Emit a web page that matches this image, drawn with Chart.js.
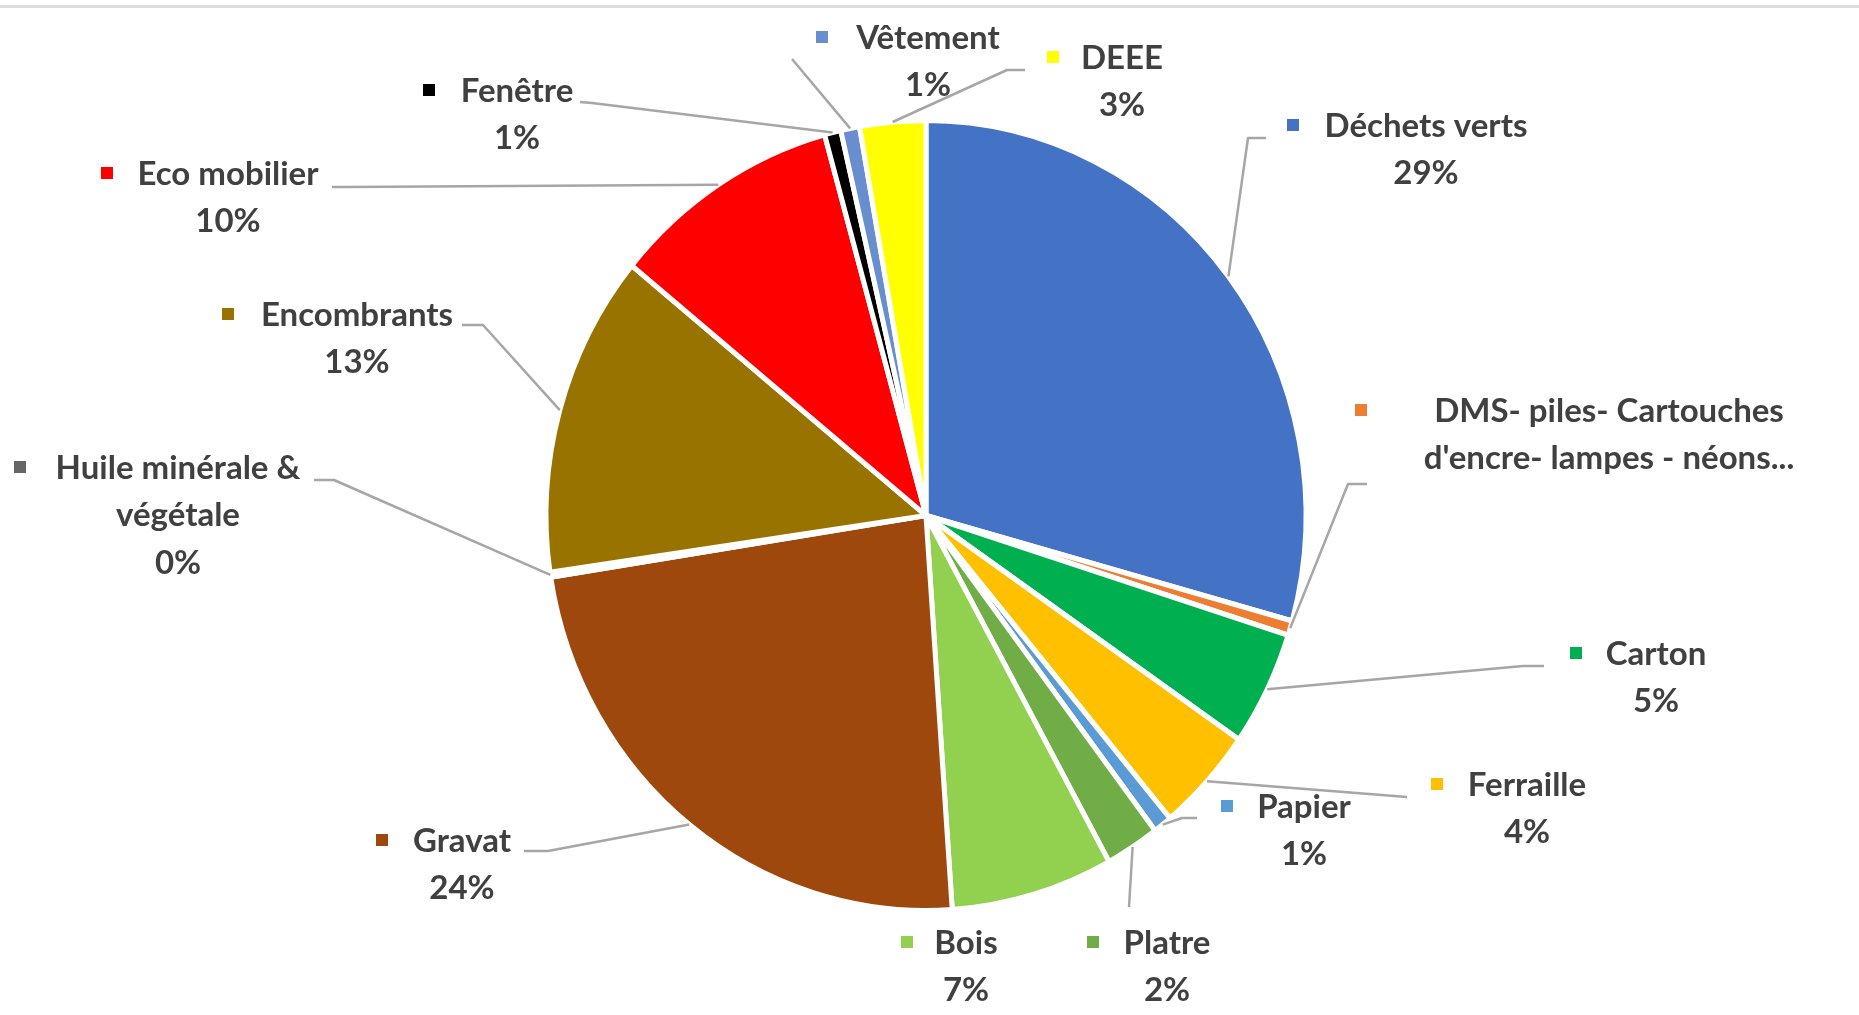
<!DOCTYPE html>
<html>
<head>
<meta charset="utf-8">
<script src="https://cdn.jsdelivr.net/npm/chart.js@4.4.1/dist/chart.umd.min.js"></script>
<style>
  html, body { margin: 0; padding: 0; background: #fff; }
  #wrap { position: relative; width: 1859px; height: 1015px; }
  #topline { position: absolute; left: 0; top: 5px; width: 1859px; height: 3px; background: #dcdcdc; }
  canvas { position: absolute; left: 0; top: 0; }
</style>
</head>
<body>
<div id="wrap">
  <div id="topline"></div>
  <canvas id="pie"></canvas>
</div>
<script>
// Répartition des apports en déchetterie (parts en %)
const categories = [
  "Déchets verts",
  "DMS- piles- Cartouches d'encre- lampes - néons...",
  "Carton",
  "Ferraille",
  "Papier",
  "Platre",
  "Bois",
  "Gravat",
  "Huile minérale & végétale",
  "Encombrants",
  "Eco mobilier",
  "Fenêtre",
  "Vêtement",
  "DEEE",
]
const values = [29.3, 0.6, 4.7, 4.3, 0.8, 2.3, 6.9, 23.6, 0.2, 13.2, 9.8, 0.7, 0.8, 2.8]
const colors = [
  "#4472C4", "#ED7D31", "#00B050", "#FFC000", "#5B9BD5", "#70AD47", "#92D050",
  "#9E480E", "#666666", "#997300", "#FF0000", "#000000", "#698ED0", "#FFFF00",
]

// label placement (page px): square x, text centre x, first line y, leader start + elbow
const labelLayout = [
  { sq: 1293, tx: 1426, ty: 126, lines: ["Déchets verts"], from: [1266, 138], elbow: [1248, 138] },
  { sq: 1361, tx: 1609, ty: 411, lines: ["DMS- piles- Cartouches", "d'encre- lampes - néons..."], noPct: true, from: [1367, 484], elbow: [1348, 484] },
  { sq: 1576, tx: 1656, ty: 654, lines: ["Carton"], from: [1544, 666], elbow: [1523, 666] },
  { sq: 1437, tx: 1527, ty: 785, lines: ["Ferraille"], from: [1407, 797], elbow: null },
  { sq: 1227, tx: 1304, ty: 807, lines: ["Papier"], from: [1197, 818], elbow: [1182, 818] },
  { sq: 1093, tx: 1167, ty: 943, lines: ["Platre"], from: [1129, 907], elbow: null },
  { sq: 907, tx: 966, ty: 943, lines: ["Bois"], from: null },
  { sq: 382, tx: 462, ty: 841, lines: ["Gravat"], from: [524, 851], elbow: [548, 851] },
  { sq: 20, tx: 178, ty: 468, lines: ["Huile minérale &", "végétale"], from: [314, 480], elbow: [334, 480] },
  { sq: 228, tx: 357, ty: 315, lines: ["Encombrants"], from: [462, 325], elbow: [483, 325] },
  { sq: 107, tx: 228, ty: 174, lines: ["Eco mobilier"], from: [332, 187], elbow: [345, 187] },
  { sq: 429, tx: 517, ty: 91, lines: ["Fenêtre"], from: [580, 102], elbow: [592, 103] },
  { sq: 822, tx: 928, ty: 38, lines: ["Vêtement"], from: [792, 59], elbow: null },
  { sq: 1053, tx: 1122, ty: 58, lines: ["DEEE"], from: [1025, 70], elbow: [1007, 70] },
]

const STRETCH_Y = 394 / 379
const LINE_H = 47.5
const FONT = "bold 33px Lato, 'Open Sans', sans-serif"

const total = values.reduce((s, v) => s + v, 0)

// the original pie is a little taller than wide
const stretchPlugin = {
  id: "stretch",
  beforeDatasetsDraw(chart) {
    const arc = chart.getDatasetMeta(0).data[0]
    const ctx = chart.ctx
    ctx.save()
    ctx.translate(arc.x, arc.y)
    ctx.scale(1, STRETCH_Y)
    ctx.translate(-arc.x, -arc.y)
  },
  afterDatasetsDraw(chart) {
    chart.ctx.restore()
  },
}

const labelPlugin = {
  id: "calloutLabels",
  afterDraw(chart) {
    const ctx = chart.ctx
    const arcs = chart.getDatasetMeta(0).data
    ctx.save()

    // leader lines
    ctx.strokeStyle = "#A6A6A6"
    ctx.lineWidth = 2.5
    ctx.lineJoin = "round"
    arcs.forEach((arc, i) => {
      const lay = labelLayout[i]
      if (!lay.from) return
      const mid = (arc.startAngle + arc.endAngle) / 2
      const px = arc.x + arc.outerRadius * Math.cos(mid)
      const py = arc.y + arc.outerRadius * Math.sin(mid) * STRETCH_Y
      ctx.beginPath()
      ctx.moveTo(lay.from[0], lay.from[1])
      if (lay.elbow) ctx.lineTo(lay.elbow[0], lay.elbow[1])
      ctx.lineTo(px, py)
      ctx.stroke()
    })

    // texts
    ctx.font = FONT
    ctx.textAlign = "center"
    ctx.textBaseline = "middle"
    labelLayout.forEach((lay, i) => {
      ctx.fillStyle = colors[i]
      ctx.fillRect(lay.sq - 6, lay.ty - 7, 12, 12)
      ctx.fillStyle = "#404040"
      const lines = lay.noPct ? lay.lines : [...lay.lines, Math.round(values[i] / total * 100) + "%"]
      lines.forEach((t, k) => ctx.fillText(t, lay.tx, lay.ty + k * LINE_H))
    })
    ctx.restore()
  },
}

new Chart(document.getElementById("pie"), {
  type: "pie",
  data: {
    labels: categories,
    datasets: [{
      data: values,
      backgroundColor: colors,
      borderColor: "#FFFFFF",
      borderWidth: 5,
    }],
  },
  options: {
    responsive: true,
    maintainAspectRatio: false,
    animation: false,
    layout: { padding: { top: 133, bottom: 117, left: 300, right: 307 } },
    plugins: {
      legend: { display: false },
      tooltip: { enabled: false },
    },
  },
  plugins: [stretchPlugin, labelPlugin],
})
</script>
</body>
</html>
